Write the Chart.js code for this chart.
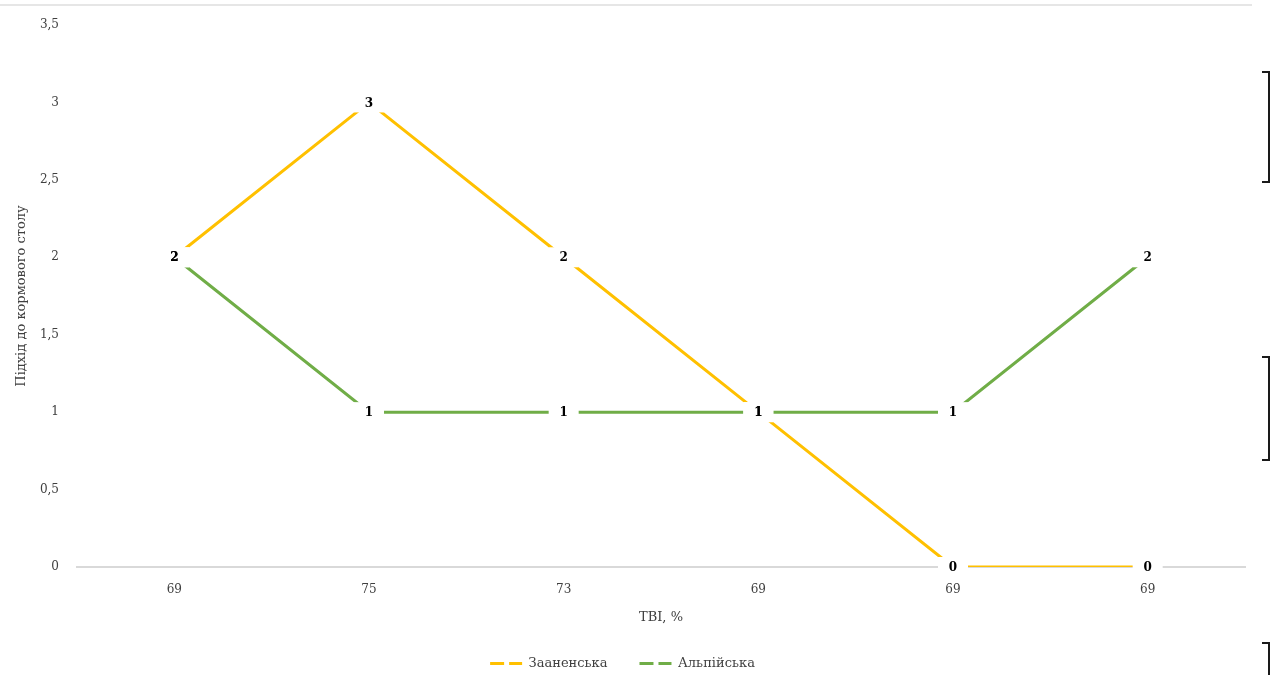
<!DOCTYPE html>
<html>
<head>
<meta charset="utf-8">
<script src="https://cdn.jsdelivr.net/npm/chart.js@4.4.1/dist/chart.umd.min.js"></script>
<style>
  html, body { margin: 0; padding: 0; background: #ffffff; }
  #wrap { width: 1272px; height: 675px; position: relative; }
</style>
</head>
<body>
<div id="wrap"><canvas id="chart"></canvas></div>
<script>
// Categories (ТВІ, %) and the two breed series
const categories = ['69', '75', '73', '69', '69', '69'];
const zaanenValues = [2, 3, 2, 1, 0, 0];
const alpineValues = [2, 1, 1, 1, 1, 2];
const seriesNames = ['Зааненська', 'Альпійська'];
const yTickLabels = ['0', '0,5', '1', '1,5', '2', '2,5', '3', '3,5'];

const SERIF = '"DejaVu Serif", "Liberation Serif", serif';
const TEXT = '#404040';

// Value labels on white boxes, centred on each point
const valueLabels = {
  id: 'valueLabels',
  afterDatasetsDraw(chart) {
    const ctx = chart.ctx;
    ctx.save();
    ctx.font = 'bold 12px ' + SERIF;
    ctx.textAlign = 'center';
    ctx.textBaseline = 'middle';
    chart.data.datasets.forEach((ds, i) => {
      chart.getDatasetMeta(i).data.forEach((pt) => {
        ctx.fillStyle = '#ffffff';
        ctx.fillRect(pt.x - 15, pt.y - 10, 30, 20);
      });
    });
    chart.data.datasets.forEach((ds, i) => {
      chart.getDatasetMeta(i).data.forEach((pt, j) => {
        ctx.fillStyle = '#000000';
        ctx.fillText(String(ds.data[j]), pt.x, pt.y + 1);
      });
    });
    ctx.restore();
  }
};

// Frame line along the top and the side brackets
const decorations = {
  id: 'decorations',
  afterDraw(chart) {
    const ctx = chart.ctx;
    ctx.save();
    ctx.strokeStyle = '#e6e6e6';
    ctx.lineWidth = 2;
    ctx.beginPath();
    ctx.moveTo(0, 5);
    ctx.lineTo(1252, 5);
    ctx.stroke();
    ctx.strokeStyle = '#1a1a1a';
    ctx.lineWidth = 2;
    [[72, 182], [357, 460], [643, 700]].forEach(([a, b]) => {
      ctx.beginPath();
      ctx.moveTo(1262, a);
      ctx.lineTo(1269, a);
      ctx.lineTo(1269, b);
      ctx.lineTo(1262, b);
      ctx.stroke();
    });
    ctx.restore();
  }
};

new Chart(document.getElementById('chart'), {
  type: 'line',
  data: {
    labels: categories,
    datasets: [
      {
        label: seriesNames[0],
        data: zaanenValues,
        borderColor: '#FFC000',
        backgroundColor: '#FFC000',
        borderWidth: 3,
        pointRadius: 0,
        tension: 0
      },
      {
        label: seriesNames[1],
        data: alpineValues,
        borderColor: '#70AD47',
        backgroundColor: '#70AD47',
        borderWidth: 3,
        pointRadius: 0,
        tension: 0
      }
    ]
  },
  options: {
    responsive: true,
    maintainAspectRatio: false,
    animation: false,
    layout: { padding: { left: 0, right: 27, top: 25, bottom: -5 } },
    plugins: {
      tooltip: { enabled: false },
      legend: {
        position: 'bottom',
        labels: {
          font: { family: SERIF, size: 13 },
          color: TEXT,
          usePointStyle: true,
          pointStyleWidth: 32,
          padding: 32,
          generateLabels(chart) {
            return chart.data.datasets.map((ds, i) => ({
              text: ds.label,
              fillStyle: ds.borderColor,
              strokeStyle: ds.borderColor,
              lineWidth: 3,
              lineDash: [14, 5],
              pointStyle: 'line',
              hidden: false,
              datasetIndex: i,
              fontColor: TEXT
            }));
          }
        }
      }
    },
    scales: {
      x: {
        offset: true,
        afterFit(scale) { scale.height = 58; },
        grid: { display: false },
        border: { display: true, color: '#d9d9d9', width: 2 },
        ticks: { font: { family: SERIF, size: 12 }, color: TEXT, padding: 8, maxRotation: 0 },
        title: { display: true, text: 'ТВІ, %', font: { family: SERIF, size: 13 }, color: TEXT, padding: 0 }
      },
      y: {
        min: 0,
        max: 3.5,
        afterFit(scale) { scale.width = 77; },
        grid: { display: false },
        border: { display: false },
        ticks: {
          stepSize: 0.5,
          font: { family: SERIF, size: 12 },
          color: TEXT,
          padding: 10,
          callback(value) { return yTickLabels[Math.round(value * 2)]; }
        },
        title: { display: true, text: 'Підхід до кормового столу', font: { family: SERIF, size: 13 }, color: TEXT, padding: { top: 14, bottom: 0 } }
      }
    }
  },
  plugins: [valueLabels, decorations]
});
</script>
</body>
</html>
